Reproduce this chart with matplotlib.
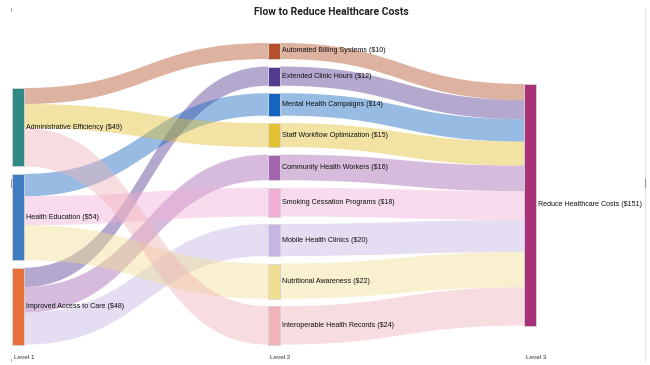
import numpy as np
import matplotlib.pyplot as plt
from matplotlib.path import Path
from matplotlib.patches import PathPatch, Rectangle

# data
level1 = ["Administrative Efficiency", "Health Education", "Improved Access to Care"]
level1_colors = ["#2E8A83", "#3F7DC0", "#E8703A"]

level2 = ["Automated Billing Systems", "Extended Clinic Hours", "Mental Health Campaigns",
          "Staff Workflow Optimization", "Community Health Workers", "Smoking Cessation Programs",
          "Mobile Health Clinics", "Nutritional Awareness", "Interoperable Health Records"]
level2_values = [10, 12, 14, 15, 16, 18, 20, 22, 24]
level2_parent = [0, 2, 1, 0, 2, 1, 2, 1, 0]
level2_colors = ["#B5502A", "#553A91", "#1565C0", "#E2C133", "#A364B0",
                 "#F0AED6", "#C4B5E5", "#F0DF90", "#EFB3B8"]

level3 = "Reduce Healthcare Costs"
level3_color = "#A83278"

level_names = ["Level 1", "Level 2", "Level 3"]

# layout (pixel-like coords)
scale = 1.6
gap = 7.5
node_w = 12
col_x = [12, 268, 524]
col_top = [88, 43, 84]

level1_values = [sum(v for v, p in zip(level2_values, level2_parent) if p == i) for i in range(len(level1))]
total = sum(level2_values)

plt.rcParams['font.family'] = ['Liberation Sans', 'DejaVu Sans']
fig = plt.figure(figsize=(6.5, 3.65), dpi=100)
ax = fig.add_axes([0, 0, 1, 1])
ax.set_xlim(0, 650)
ax.set_ylim(365, 0)
ax.axis('off')


def stack(values, top):
    ys = []
    y = top
    for v in values:
        ys.append(y)
        y += v * scale + gap
    return ys


y1 = stack(level1_values, col_top[0])
y2 = stack(level2_values, col_top[1])
y3 = col_top[2]


def link(xa, ya, xb, yb, w, color):
    xm = (xa + xb) / 2
    verts = [(xa, ya), (xm, ya), (xm, yb), (xb, yb),
             (xb, yb + w), (xm, yb + w), (xm, ya + w), (xa, ya + w), (xa, ya)]
    codes = [Path.MOVETO, Path.CURVE4, Path.CURVE4, Path.CURVE4,
             Path.LINETO, Path.CURVE4, Path.CURVE4, Path.CURVE4, Path.CLOSEPOLY]
    ax.add_patch(PathPatch(Path(verts, codes), facecolor=color, edgecolor='none',
                           alpha=0.44, zorder=1))


# links level1 -> level2
offs = list(y1)
for j in range(len(level2)):
    p = level2_parent[j]
    w = level2_values[j] * scale
    link(col_x[0] + node_w, offs[p], col_x[1], y2[j], w, level2_colors[j])
    offs[p] += w

# links level2 -> level3
off3 = y3
for j in range(len(level2)):
    w = level2_values[j] * scale
    link(col_x[1] + node_w, y2[j], col_x[2], off3, w, level2_colors[j])
    off3 += w


def node(x, y, v, color, label):
    h = v * scale
    ax.add_patch(Rectangle((x, y), node_w, h, facecolor=color, edgecolor='#d4d4d4',
                           linewidth=0.6, zorder=3))
    ax.text(x + node_w + 2.5, y + h / 2, f"{label} (${v})", fontsize=5.1,
            color='#111111', va='center', ha='left', zorder=4)


for i, name in enumerate(level1):
    node(col_x[0], y1[i], level1_values[i], level1_colors[i], name)
for j, name in enumerate(level2):
    node(col_x[1], y2[j], level2_values[j], level2_colors[j], name)
node(col_x[2], y3, total, level3_color, level3)

for x, name in zip(col_x, level_names):
    ax.text(x + 2, 357.5, name, fontsize=4.6, color='#333333', va='center', ha='left')

ax.text(331, 12, "Flow to Reduce Healthcare Costs", fontsize=7.5, fontweight='bold',
        family=['Roboto', 'DejaVu Sans'], color='#222222', ha='center', va='center')

# frame marks
ax.plot([645, 645], [8, 360], color='#e2e2e2', lw=0.8)
ax.plot([645, 645], [179, 187], color='#999999', lw=0.8)
ax.plot([10.5, 10.5], [179, 187], color='#999999', lw=0.8)
ax.plot([11, 11], [8, 11], color='#999999', lw=0.6)
ax.plot([11, 11], [359, 361], color='#999999', lw=0.6)

fig.savefig("out.png", dpi=100)
